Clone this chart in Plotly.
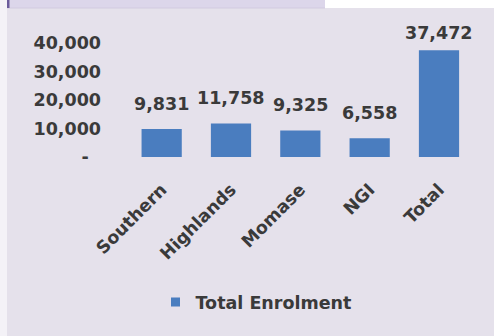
import plotly.graph_objects as go

# Enrolment by region
regions = ["Southern", "Highlands", "Momase", "NGI", "Total"]
enrolment = [9831, 11758, 9325, 6558, 37472]
series_name = "Total Enrolment"

y_tickvals = [0, 10000, 20000, 30000, 40000]
y_ticktext = ["-\u00a0\u00a0", "10,000", "20,000", "30,000", "40,000"]

# figure geometry (pixels)
W, H = 494, 336
L, R, T, B = 127, 19, 43, 179
PW, PH = W - L - R, H - T - B
Y_MAX = 40000

BAR = "#4a7dbf"
BG = "#e5e1eb"
TXT = "#3a3a3a"
FONT = "DejaVu Sans"
FS = 17.5
FW = "bold"


def px_x(px):
    return (px - L) / PW


def px_y(py):
    return (H - B - py) / PH


fig = go.Figure()
fig.add_trace(go.Bar(
    x=regions, y=enrolment, marker_color=BAR, marker_line_width=0,
    showlegend=False, width=0.58,
))
# legend entry with a small square swatch
fig.add_trace(go.Scatter(
    x=[None], y=[None], mode="markers", name=series_name,
    marker=dict(symbol="square", size=9, color=BAR),
))

# value labels above bars
for cat, val in zip(regions, enrolment):
    top_px = (H - B) - val / Y_MAX * PH
    shift = min(25, top_px - 33)
    fig.add_annotation(
        x=cat, y=val, text=f"{val:,}", showarrow=False,
        yanchor="middle", yshift=shift,
        font=dict(family=FONT, size=FS, color=TXT, weight=FW),
    )

# background panels
shapes = [
    dict(type="rect", xref="paper", yref="paper", layer="below",
         x0=px_x(0), x1=px_x(W + 20), y0=px_y(H + 20), y1=px_y(0),
         fillcolor="#ffffff", line_width=0),
    dict(type="rect", xref="paper", yref="paper", layer="below",
         x0=px_x(7), x1=px_x(W + 20), y0=px_y(H + 20), y1=px_y(8),
         fillcolor=BG, line_width=0),
    dict(type="rect", xref="paper", yref="paper", layer="below",
         x0=px_x(0), x1=px_x(7), y0=px_y(H + 20), y1=px_y(0),
         fillcolor="#f4f2f7", line_width=0),
    dict(type="rect", xref="paper", yref="paper", layer="below",
         x0=px_x(7), x1=px_x(325), y0=px_y(8), y1=px_y(0),
         fillcolor="#dcd6ea", line_width=0),
    dict(type="line", xref="paper", yref="paper", layer="below",
         x0=px_x(7), x1=px_x(325), y0=px_y(8), y1=px_y(8),
         line=dict(color="#d2cbe0", width=1)),
    dict(type="rect", xref="paper", yref="paper", layer="below",
         x0=px_x(7), x1=px_x(9.5), y0=px_y(8), y1=px_y(0),
         fillcolor="#6b5b9b", line_width=0),
]

fig.update_layout(
    width=W, height=H,
    margin=dict(l=L, r=R, t=T, b=B, pad=0),
    paper_bgcolor=BG, plot_bgcolor="rgba(0,0,0,0)",
    font=dict(family=FONT, size=FS, color=TXT, weight=FW),
    shapes=shapes,
    bargap=0.42,
    legend=dict(
        orientation="h", x=px_x(256), y=px_y(302),
        xanchor="center", yanchor="middle",
        bgcolor="rgba(0,0,0,0)",
        font=dict(family=FONT, size=FS, color=TXT, weight=FW),
    ),
)
fig.update_xaxes(
    tickangle=-45, showgrid=False, showline=False, zeroline=False,
    ticks="", ticklabelstandoff=18,
    tickfont=dict(family=FONT, size=FS, color=TXT, weight=FW),
)
fig.update_yaxes(
    range=[0, Y_MAX], tickvals=y_tickvals, ticktext=y_ticktext,
    showgrid=False, showline=False, zeroline=False, ticks="",
    ticklabelstandoff=25,
    tickfont=dict(family=FONT, size=FS, color=TXT, weight=FW),
)

fig.write_html(
    "out.html",
    config={"displayModeBar": False},
    post_script=(
        "document.body.style.margin='0';"
        "document.body.style.background='" + BG + "';"
        "document.documentElement.style.background='" + BG + "';"
    ),
)
